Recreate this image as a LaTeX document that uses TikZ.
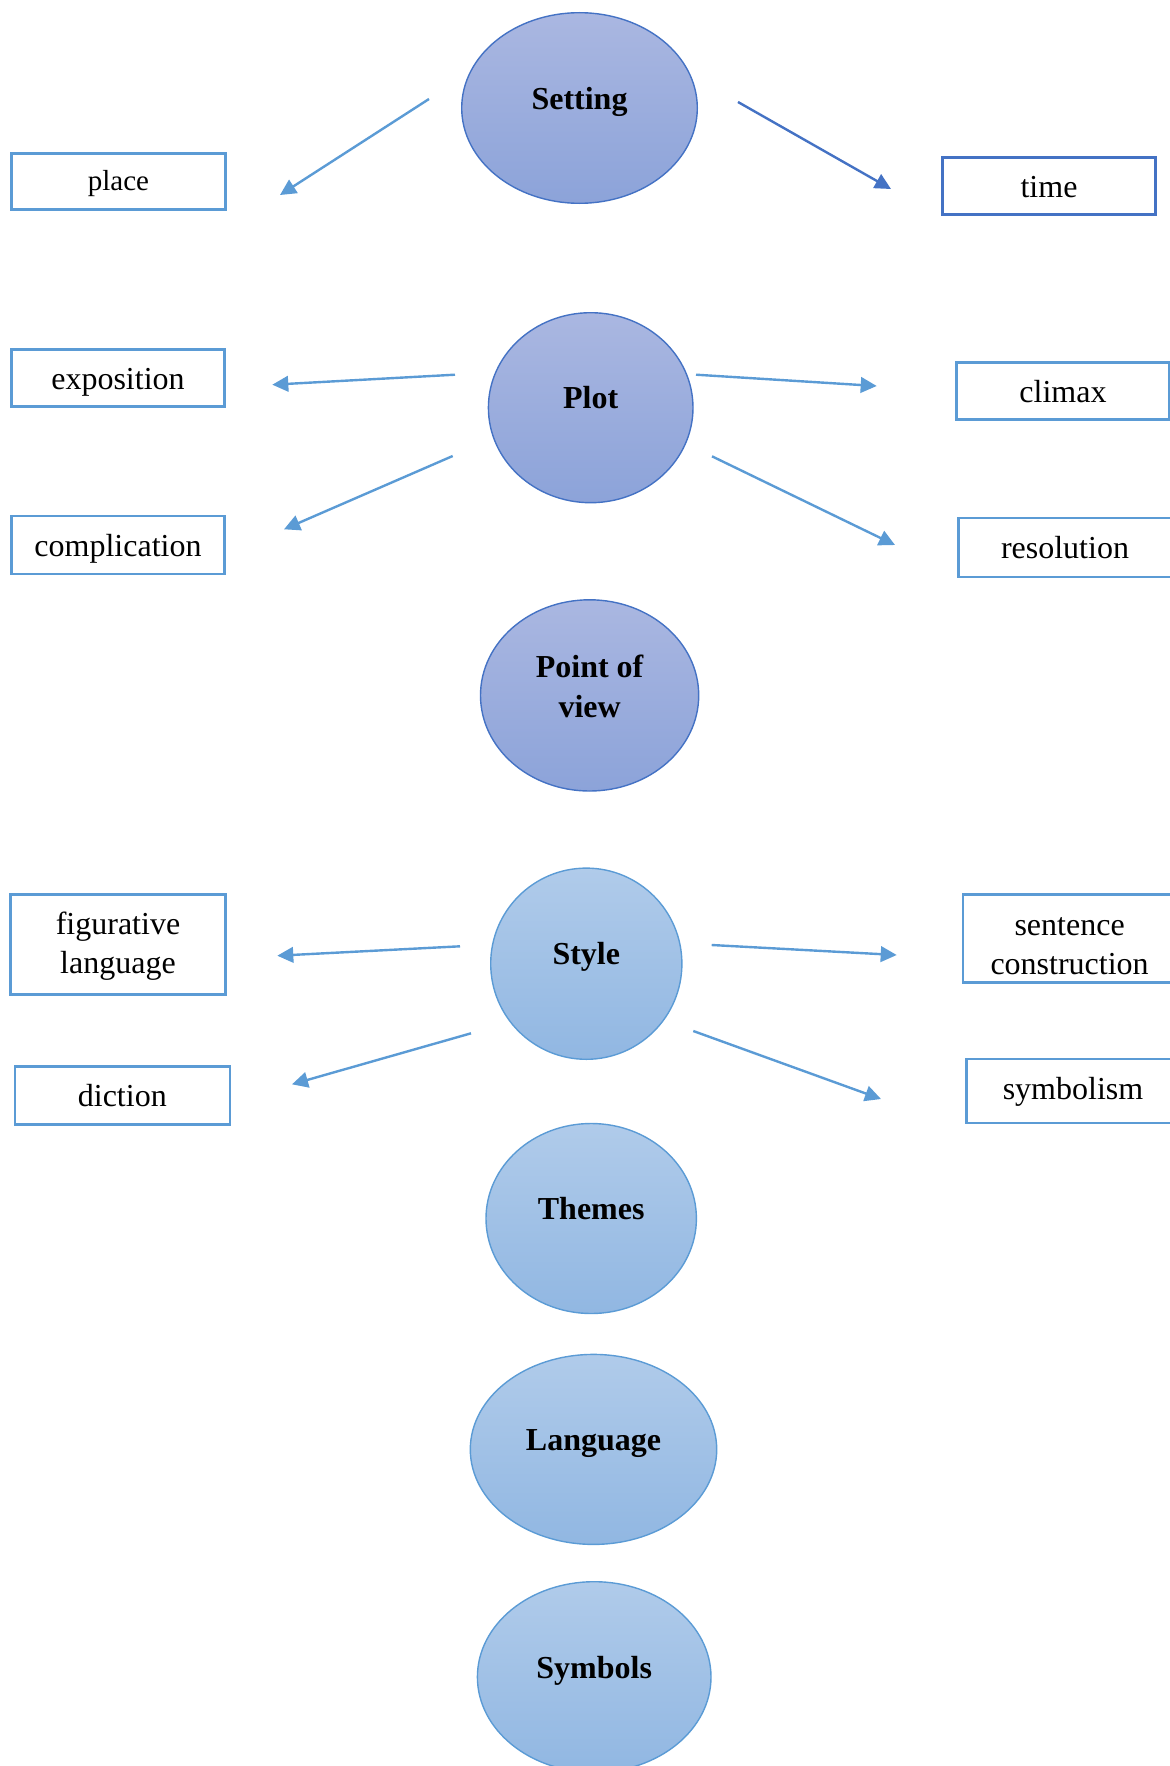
\documentclass[tikz,border=0pt]{standalone}
\usepackage{fontspec}
\setmainfont{Liberation Serif}
\usetikzlibrary{shapes.geometric,arrows.meta}

\definecolor{edgeDark}{HTML}{4472C4}
\definecolor{edgeLight}{HTML}{5B9BD5}
\definecolor{violetTop}{HTML}{AAB7E1}
\definecolor{violetBot}{HTML}{8CA3D9}
\definecolor{skyTop}{HTML}{B0CBEA}
\definecolor{skyBot}{HTML}{91B7E2}

\begin{document}
\begin{tikzpicture}[x=0.5pt,y=-0.5pt,
  topicA/.style={ellipse, draw=edgeDark, line width=0.7pt, top color=violetTop, bottom color=violetBot, inner sep=0pt},
  topicB/.style={ellipse, draw=edgeLight, line width=0.7pt, top color=skyTop, bottom color=skyBot, inner sep=0pt},
  title/.style={font=\fontsize{16}{20}\selectfont\bfseries, align=center, inner sep=0pt},
  leafbase/.style={rectangle, draw=edgeLight, line width=1.3pt, fill=white, inner sep=0pt, align=center,
    font=\fontsize{16}{19.5}\selectfont},
  leaf/.style={leafbase, text height=12pt, text depth=1pt},
  leaftext/.style={font=\fontsize{16}{19.5}\selectfont, align=center, inner sep=0pt},
  link/.style={draw=edgeLight, line width=1.2pt, -{Triangle[length=8pt,width=7.8pt]}}
]
\useasboundingbox (0,0) rectangle (1169,1766);

% ---------- central topics ----------
\node[topicA, minimum width=117.8pt, minimum height=95.3pt] (setting) at (579.5,108) {};
\node[title, anchor=base] at ([yshift=-1pt]setting.center) {Setting};

\node[topicA, minimum width=102.3pt, minimum height=95pt] (plot) at (590.7,407.7) {};
\node[title, anchor=base] at ([yshift=-0.5pt]plot.center) {Plot};

\node[topicA, minimum width=109.1pt, minimum height=95.6pt] (pov) at (589.6,695.4) {};
\node[title] at ([yshift=4.6pt]pov.center) {Point of\\view};

\node[topicB, minimum width=95.6pt, minimum height=95.6pt] (style) at (586.3,963.7) {};
\node[title, anchor=base] at ([yshift=-0.5pt]style.center) {Style};

\node[topicB, minimum width=105.2pt, minimum height=95pt] (themes) at (591.2,1218.5) {};
\node[title, anchor=base] at ([yshift=-0.5pt]themes.center) {Themes};

\node[topicB, minimum width=123.2pt, minimum height=95pt] (language) at (593.5,1449.4) {};
\node[title, anchor=base] at ([yshift=-0.5pt]language.center) {Language};

\node[topicB, minimum width=116.8pt, minimum height=95.3pt] (symbols) at (594.2,1677) {};
\node[title, anchor=base] at ([yshift=-0.5pt]symbols.center) {Symbols};

% ---------- detail boxes ----------
\node[leaf, font=\fontsize{14.5}{18}\selectfont, text height=11pt, text depth=2.5pt,
      minimum width=107pt, minimum height=28pt] (place) at (118.5,181.5) {place};
\node[leaf, draw=edgeDark, minimum width=106.5pt, minimum height=28.5pt] (time) at (1049,186) {time};

\node[leaf, minimum width=106.5pt, minimum height=28.5pt] (exposition) at (118,378) {exposition};
\node[leaf, minimum width=106.5pt, minimum height=29pt] (complication) at (118,545) {complication};
\node[leaf, minimum width=106.5pt, minimum height=28.5pt] (climax) at (1063,391.2) {climax};
\node[leaf, minimum width=106.5pt, minimum height=29.5pt] (resolution) at (1065,547.5) {resolution};

\node[leafbase, minimum width=107.5pt, minimum height=50pt] (figurative) at (118,944.3) {};
\node[leaftext] at (118,946) {figurative\\language};
\node[leaf, minimum width=107.5pt, minimum height=29pt] (diction) at (122.3,1095.7) {diction};
\node[leafbase, minimum width=106.5pt, minimum height=44pt] (sentence) at (1069.6,938.3) {};
\node[leaftext] at (1069.6,946) {sentence\\construction};
\node[leaf, text depth=4pt, minimum width=106.5pt, minimum height=32pt] (symbolism) at (1073,1091) {symbolism};

% ---------- connector ends ----------
\coordinate (setting-l) at (429,99);     \coordinate (place-in) at (280,195);
\coordinate (setting-r) at (738,102);    \coordinate (time-in) at (891,189);
\coordinate (plot-ul) at (455,374.7);    \coordinate (exposition-in) at (272.3,384.7);
\coordinate (plot-ll) at (452.7,456);    \coordinate (complication-in) at (284,529.3);
\coordinate (plot-ur) at (696,374.7);    \coordinate (climax-in) at (876.7,386);
\coordinate (plot-lr) at (712,456.3);    \coordinate (resolution-in) at (895,545);
\coordinate (style-ul) at (460,946.3);   \coordinate (figurative-in) at (277.3,955.7);
\coordinate (style-ll) at (471,1033.3);  \coordinate (diction-in) at (292,1084.3);
\coordinate (style-ur) at (711.7,945);   \coordinate (sentence-in) at (896.7,955);
\coordinate (style-lr) at (693.3,1031);  \coordinate (symbolism-in) at (881,1099);

% ---------- connectors ----------
\draw[link] (setting-l) -- (place-in);
\draw[link, draw=edgeDark] (setting-r) -- (time-in);
\draw[link] (plot-ul) -- (exposition-in);
\draw[link] (plot-ll) -- (complication-in);
\draw[link] (plot-ur) -- (climax-in);
\draw[link] (plot-lr) -- (resolution-in);
\draw[link] (style-ul) -- (figurative-in);
\draw[link] (style-ll) -- (diction-in);
\draw[link] (style-ur) -- (sentence-in);
\draw[link] (style-lr) -- (symbolism-in);
\end{tikzpicture}
\end{document}
